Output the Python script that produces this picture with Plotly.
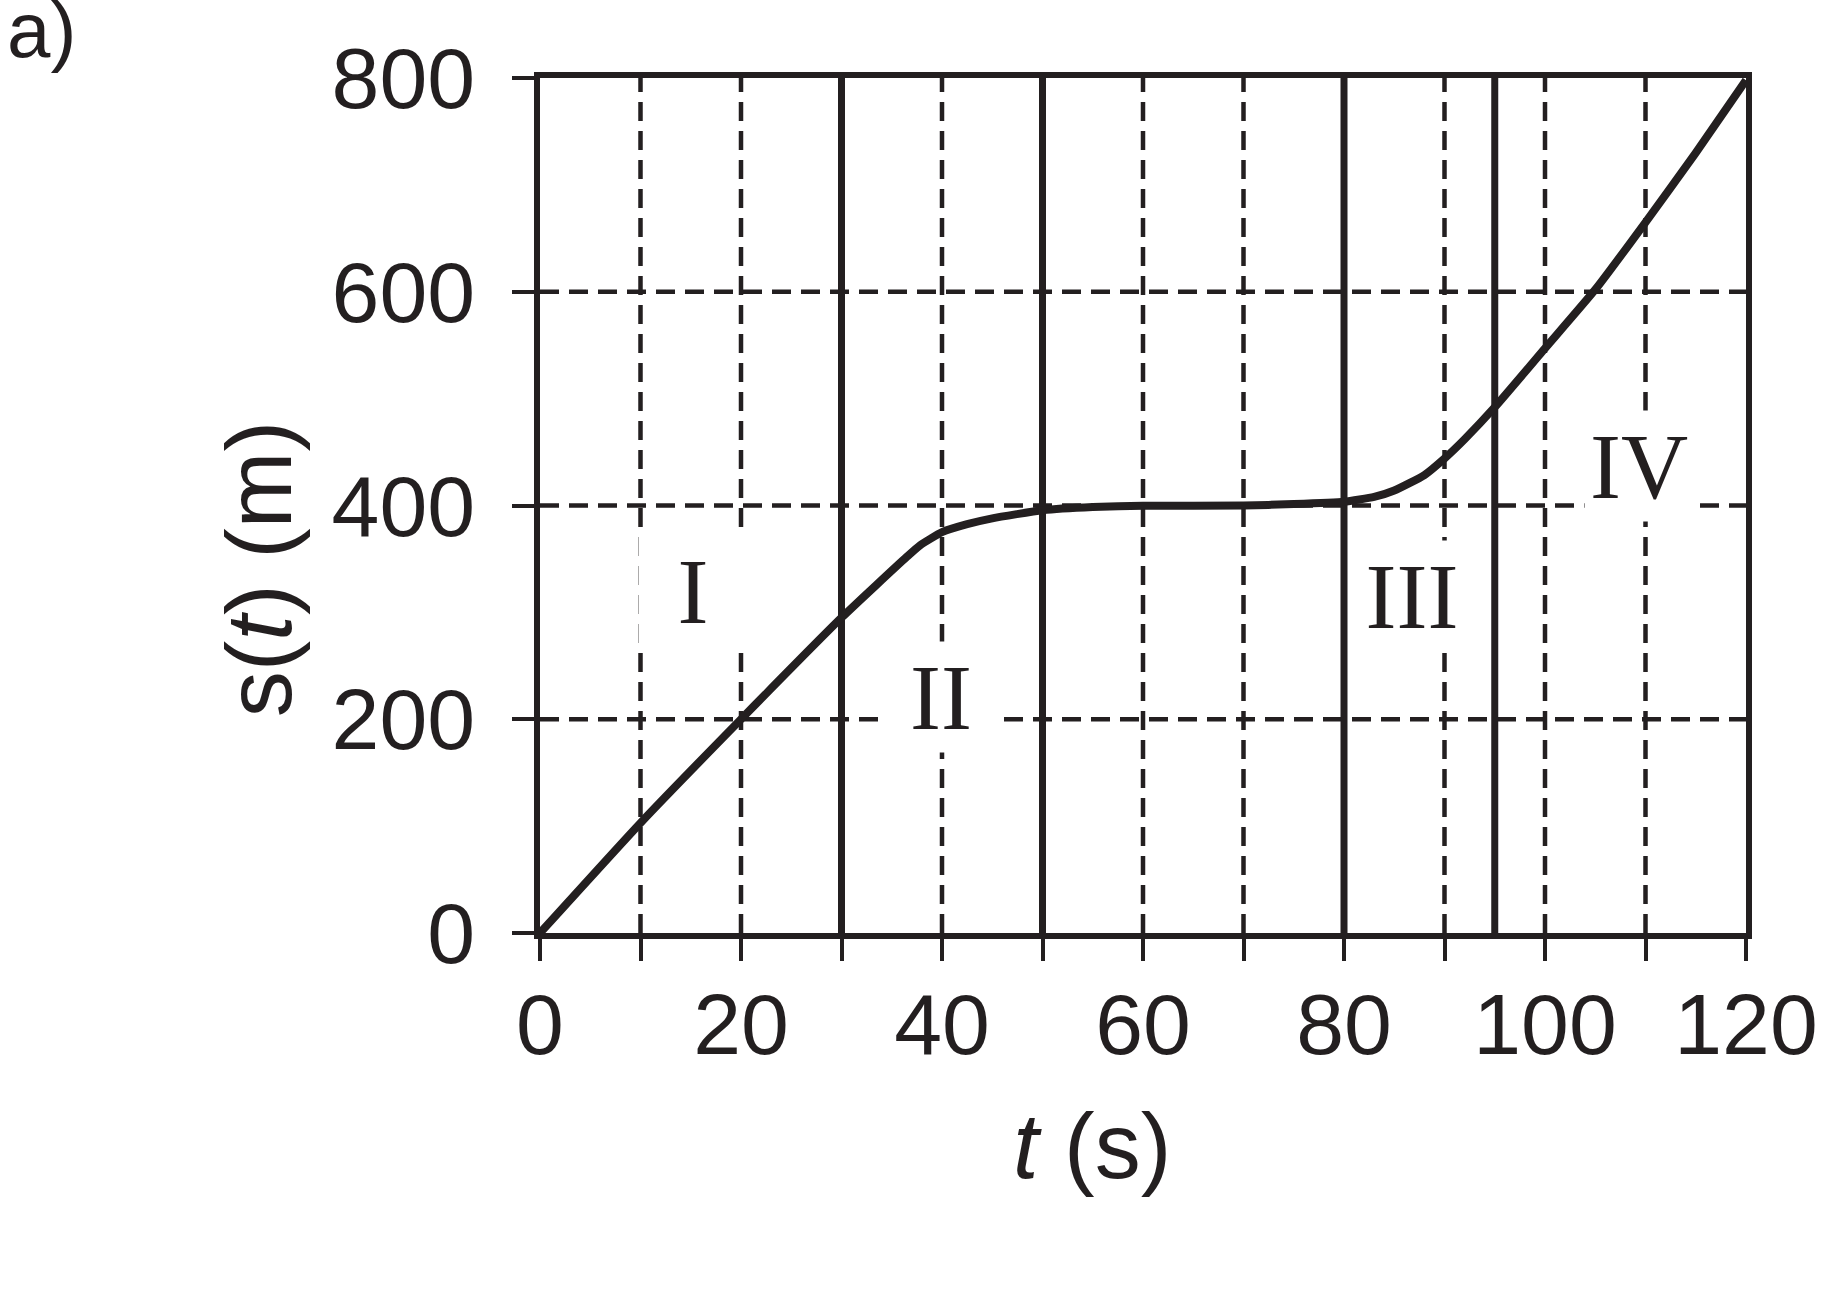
import plotly.graph_objects as go

# ---- data ----
t_vals = [0, 10, 20, 30, 36.5, 37.8, 40, 42.5, 45, 50, 55, 60, 70, 75, 80, 83, 85, 88, 90, 92, 95, 100, 105, 110, 115, 120]
s_vals = [0, 103, 200, 295, 352, 362.6, 375, 382.5, 388, 395.5, 398.5, 399.7, 400, 401.3, 403.5, 408, 414, 428.5, 444, 462, 492, 547, 602, 665, 730, 798]

x_tickvals = [0, 10, 20, 30, 40, 50, 60, 70, 80, 90, 100, 110, 120]
x_ticktext = ["0", "", "20", "", "40", "", "60", "", "80", "", "100", "", "120"]
y_tickvals = [0, 200, 400, 600, 800]
y_ticktext = ["0", "200", "400", "600", "800"]

solid_t = [30, 50, 80, 95]
dashed_t = [10, 20, 40, 60, 70, 90, 100, 110]
dashed_s = [200, 400, 600]

region_labels = ["I", "II", "III", "IV"]
region_t = [15.2, 39.9, 86.8, 109.4]
region_s = [320, 221, 315, 437]

INK = "#231f20"
SANS = "Liberation Sans, Arial, sans-serif"
SERIF = "Liberation Serif, Times New Roman, serif"

fig = go.Figure()
fig.add_trace(go.Scatter(x=t_vals, y=s_vals, mode="lines",
                         line=dict(color=INK, width=8, shape="spline", smoothing=0.5),
                         hoverinfo="skip", showlegend=False))

shapes = []
for tv in dashed_t:
    shapes.append(dict(type="line", xref="x", yref="y", x0=tv, x1=tv, y0=0, y1=800,
                       line=dict(color=INK, width=4.5, dash="19px,10px"), layer="below"))
for sv in dashed_s:
    shapes.append(dict(type="line", xref="x", yref="y", x0=0, x1=120, y0=sv, y1=sv,
                       line=dict(color=INK, width=4.5, dash="19px,10px"), layer="below"))
for tv in solid_t:
    shapes.append(dict(type="line", xref="x", yref="y", x0=tv, x1=tv, y0=0, y1=800,
                       line=dict(color=INK, width=7), layer="below"))

annotations = []
for lab, tx, sy in zip(region_labels, region_t, region_s):
    annotations.append(dict(x=tx, y=sy, xref="x", yref="y", text=lab, showarrow=False,
                            font=dict(family=SERIF, size=93, color=INK),
                            bgcolor="white", width=108, height=110, borderpad=0,
                            xanchor="center", yanchor="middle"))

annotations.append(dict(x=-0.4137, y=1.0556, xref="paper", yref="paper", text="a)",
                        showarrow=False, font=dict(family=SANS, size=78, color=INK),
                        xanchor="center", yanchor="middle"))
annotations.append(dict(x=0.4581, y=-0.2497, xref="paper", yref="paper",
                        text="<i>t</i> (s)", showarrow=False,
                        font=dict(family=SANS, size=92, color=INK),
                        xanchor="center", yanchor="middle"))
annotations.append(dict(x=-0.2328, y=0.4257, xref="paper", yref="paper",
                        text="s(<i>t</i>) (m)", showarrow=False, textangle=-90,
                        font=dict(family=SANS, size=92, color=INK),
                        xanchor="center", yanchor="middle"))

fig.update_layout(
    width=1834, height=1292, autosize=False,
    margin=dict(l=540, r=88, t=78, b=359, pad=0),
    paper_bgcolor="white", plot_bgcolor="white",
    shapes=shapes, annotations=annotations, showlegend=False,
    xaxis=dict(range=[0, 120], tickvals=x_tickvals, ticktext=x_ticktext,
               ticks="outside", ticklen=22, tickwidth=4, tickcolor=INK,
               showline=True, linewidth=5.5, linecolor=INK, mirror=True,
               showgrid=False, zeroline=False, ticklabelstandoff=-10,
               tickfont=dict(family=SANS, size=86, color=INK)),
    yaxis=dict(range=[0, 800], tickvals=y_tickvals, ticktext=y_ticktext,
               ticks="outside", ticklen=22, tickwidth=4, tickcolor=INK,
               showline=True, linewidth=5.5, linecolor=INK, mirror=True,
               showgrid=False, zeroline=False, ticklabelstandoff=20,
               tickfont=dict(family=SANS, size=86, color=INK)),
)

fig.write_html("out.html")
